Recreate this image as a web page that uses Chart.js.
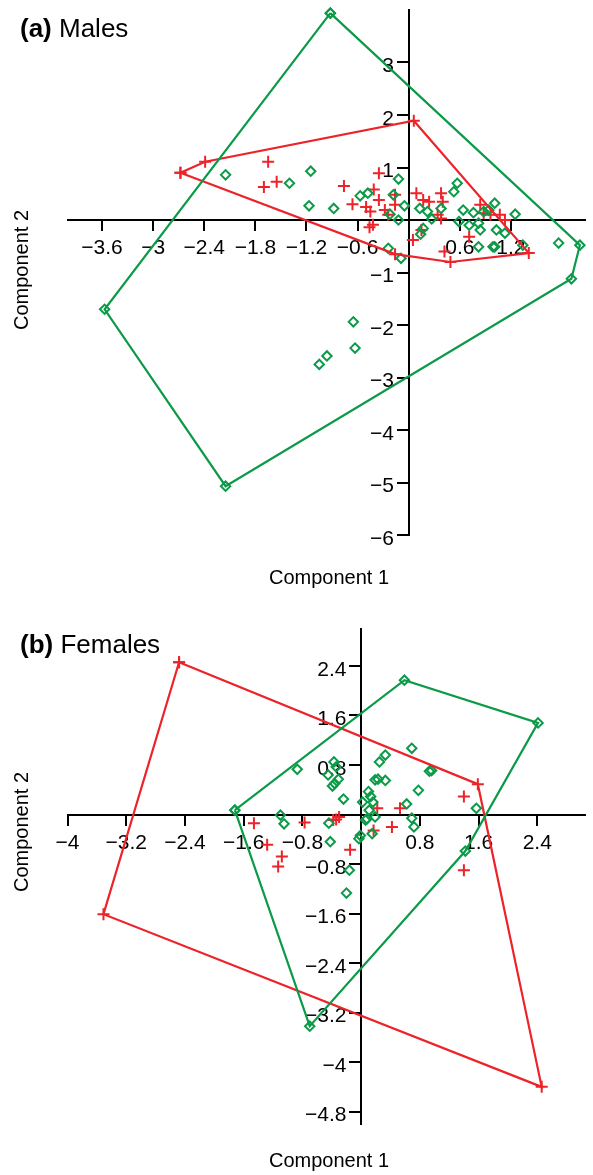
<!DOCTYPE html>
<html>
<head>
<meta charset="utf-8">
<script src="https://cdn.jsdelivr.net/npm/chart.js@4.4.1/dist/chart.umd.min.js"></script>
<style>
body { margin: 0; background: #fff; }
#wrap { position: relative; width: 593px; height: 1175px; font-family: "Liberation Sans", Arial, sans-serif; color: #000; }
canvas { position: absolute; left: 0; }
#cA { top: 0; }
#cB { top: 590px; }
.panel { position: absolute; left: 20px; font-size: 26px; line-height: 26px; white-space: nowrap; }
.axt { position: absolute; font-size: 20px; line-height: 20px; white-space: nowrap; transform: translate(-50%, -50%); }
.axt.v { transform: translate(-50%, -50%) rotate(-90deg); }
</style>
</head>
<body>
<div id="wrap">
  <canvas id="cA" width="593" height="590"></canvas>
  <canvas id="cB" width="593" height="585"></canvas>
  <div class="panel" style="top:15px"><b>(a)</b> Males</div>
  <div class="axt v" style="left:21px; top:270px">Component 2</div>
  <div class="axt" style="left:329px; top:577px">Component 1</div>
  <div class="panel" style="top:631px"><b>(b)</b> Females</div>
  <div class="axt v" style="left:21px; top:832px">Component 2</div>
  <div class="axt" style="left:329px; top:1160px">Component 1</div>
</div>
<script>
// (a) Males
var malesRedHull = [[-2.68, 0.90], [-2.39, 1.11], [0.06, 1.89], [1.41, -0.63], [0.49, -0.80], [-0.16, -0.65]];
var malesRed = [[-1.65, 1.11], [-1.70, 0.63], [-1.55, 0.73], [-0.76, 0.65], [-0.66, 0.30], [-0.35, 0.89],
    [-0.41, 0.58], [-0.35, 0.38], [-0.50, 0.25], [-0.45, 0.16], [-0.46, -0.14], [-0.42, -0.09],
    [-0.28, 0.19], [-0.16, 0.48], [-0.16, 0.29], [-0.24, 0.10], [0.09, 0.51], [0.17, 0.38],
    [0.24, 0.35], [0.38, 0.51], [0.40, 0.35], [0.34, 0.10], [0.38, 0.03], [0.05, -0.38],
    [0.42, -0.60], [0.84, 0.29], [0.88, 0.13], [0.96, 0.10], [1.07, 0.10], [1.13, 0.0],
    [0.71, -0.32], [0.15, -0.19]];
var malesGreenHull = [[-0.92, 3.94], [2.01, -0.48], [1.91, -1.12], [-2.15, -5.07], [-3.57, -1.70]];
var malesGreen = [[-2.15, 0.86], [-1.40, 0.70], [-1.15, 0.93], [-1.17, 0.27], [-0.88, 0.22], [-0.57, 0.46],
    [-0.48, 0.51], [-0.18, 0.48], [-0.12, 0.78], [-0.05, 0.27], [-0.22, 0.11], [-0.12, 0.0],
    [0.13, 0.22], [0.22, 0.16], [0.27, 0.02], [0.17, -0.16], [0.14, -0.27], [0.38, 0.22],
    [0.53, 0.54], [0.57, 0.70], [0.64, 0.19], [0.76, 0.14], [0.71, -0.10], [0.82, -0.06],
    [0.84, -0.19], [0.88, 0.16], [0.94, 0.19], [1.01, 0.32], [1.03, -0.19], [1.13, -0.25],
    [1.25, 0.11], [0.82, -0.51], [0.99, -0.51], [1.01, -0.51], [1.34, -0.48], [-0.24, -0.54],
    [-0.09, -0.73], [0.59, -0.03], [1.76, -0.44], [-0.65, -1.94], [-0.63, -2.44], [-0.96, -2.59],
    [-1.05, -2.75]];
var malesXTicks = [-3.6, -3, -2.4, -1.8, -1.2, -0.6, 0.6, 1.2];
var malesYTicks = [3, 2, 1, -1, -2, -3, -4, -5, -6];

// (b) Females
var femalesRedHull = [[-2.48, 2.46], [1.59, 0.49], [2.46, -4.40], [-3.51, -1.61]];
var femalesRed = [[-1.46, -0.14], [-1.28, -0.49], [-1.08, -0.68], [-1.13, -0.84], [-0.77, -0.13],
    [-0.38, -0.09], [-0.34, -0.08], [-0.30, -0.04], [-0.15, -0.57], [0.22, 0.10], [0.17, -0.26],
    [0.42, -0.20], [0.53, 0.10], [1.40, 0.29], [1.40, -0.90]];
var femalesGreenHull = [[-1.72, 0.07], [0.59, 2.17], [2.41, 1.48], [1.42, -0.59], [-0.70, -3.42]];
var femalesGreen = [[-1.10, -0.01], [-1.05, -0.15], [-0.87, 0.73], [-0.44, -0.14], [-0.42, -0.44],
    [-0.45, 0.64], [-0.37, 0.85], [-0.34, 0.77], [-0.31, 0.57], [-0.36, 0.50], [-0.39, 0.46],
    [-0.24, 0.25], [-0.16, -0.90], [-0.20, -1.27], [-0.01, -0.34], [-0.03, -0.39], [0.02, 0.20],
    [0.10, 0.37], [0.13, 0.29], [0.16, 0.20], [0.11, 0.07], [0.06, -0.09], [0.08, -0.07],
    [0.19, -0.04], [0.15, -0.31], [0.19, 0.56], [0.23, 0.57], [0.33, 0.55], [0.25, 0.85],
    [0.33, 0.96], [0.69, 1.07], [0.78, 0.39], [0.62, 0.17], [0.69, -0.06], [0.72, -0.20],
    [0.93, 0.70], [0.96, 0.71], [1.57, 0.10]];
var femalesXTicks = [-4, -3.2, -2.4, -1.6, -0.8, 0.8, 1.6, 2.4];
var femalesYTicks = [2.4, 1.6, 0.8, -0.8, -1.6, -2.4, -3.2, -4, -4.8];

var RED = '#ec2329';
var GREEN = '#0b9a47';
var FONT = '"Liberation Sans", Arial, sans-serif';

function pts(arr) {
    return arr.map(function (p) { return {x: p[0], y: p[1]}; });
}

function closed(arr) {
    return pts(arr.concat([arr[0]]));
}

function fmt(v) {
    return (v < 0 ? '\u2212' : '') + Math.abs(v);
}

function redSet(data, line) {
    return {
        data: data, showLine: line, borderColor: RED, backgroundColor: RED, borderWidth: 2.2,
        pointStyle: 'cross', pointRadius: 6, pointBorderWidth: 2, pointBorderColor: RED,
        pointHoverRadius: 6, clip: false, tension: 0, fill: false
    };
}

function greenSet(data, line) {
    return {
        data: data, showLine: line, borderColor: GREEN, backgroundColor: 'rgba(0,0,0,0)', borderWidth: 2.2,
        pointStyle: 'rectRot', pointRadius: 4.7, pointBorderWidth: 2, pointBorderColor: GREEN,
        pointBackgroundColor: 'rgba(0,0,0,0)', pointHoverRadius: 4.7, clip: false, tension: 0, fill: false
    };
}

// axes sit on the origin; they take no layout room
function axis(min, max, ticks, pos, isX) {
    return {
        type: 'linear', min: min, max: max, position: pos,
        afterBuildTicks: function (s) {
            s.ticks = ticks.map(function (v) { return {value: v}; });
        },
        afterFit: function (s) {
            if (isX) s.height = 0; else s.width = 0;
            s.paddingTop = 0; s.paddingBottom = 0; s.paddingLeft = 0; s.paddingRight = 0;
        },
        grid: {drawOnChartArea: false, drawTicks: true, tickLength: isX ? 10 : 11, lineWidth: 2, tickWidth: 2, tickColor: '#000', color: '#000'},
        border: {display: true, color: '#000', width: 2},
        ticks: {
            color: '#000', font: {family: FONT, size: 21}, padding: 6, labelOffset: isX ? 0 : 4,
            autoSkip: false, maxRotation: 0, minRotation: 0,
            // y labels are right-aligned on the axis itself, so pad them off the tick marks
            callback: function (v) { return isX ? fmt(v) : fmt(v) + '\u2002\u2009'; }
        }
    };
}

function makeChart(id, redHull, red, greenHull, green, xr, yr, xt, yt, pad) {
    return new Chart(document.getElementById(id), {
        type: 'scatter',
        data: {
            datasets: [
                greenSet(closed(greenHull), true),
                redSet(closed(redHull), true),
                greenSet(pts(green), false),
                redSet(pts(red), false)
            ]
        },
        options: {
            responsive: false,
            animation: false,
            devicePixelRatio: 1,
            layout: {padding: pad},
            plugins: {legend: {display: false}, tooltip: {enabled: false}},
            events: [],
            scales: {
                x: axis(xr[0], xr[1], xt, {y: 0}, true),
                y: axis(yr[0], yr[1], yt, {x: 0}, false)
            }
        }
    });
}

var chartA = makeChart('cA', malesRedHull, malesRed, malesGreenHull, malesGreen,
    [-4, 2.07], [-6, 4], malesXTicks, malesYTicks, {left: 68, top: 10, right: 0, bottom: 55});
var chartB = makeChart('cB', femalesRedHull, femalesRed, femalesGreenHull, femalesGreen,
    [-4, 3.05], [-5, 3], femalesXTicks, femalesYTicks, {left: 67.5, top: 38.8, right: 0, bottom: 51});
</script>
</body>
</html>
